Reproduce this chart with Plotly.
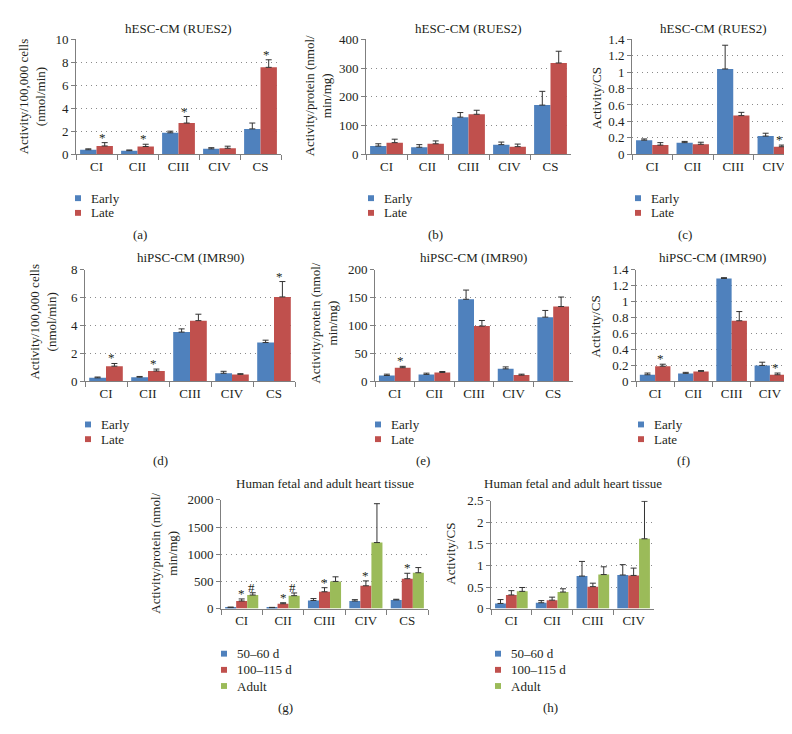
import plotly.graph_objects as go

W, H = 792, 734
FONT = "Liberation Serif"
TXT = "#231f20"
AXC = "#7f7f7f"
BLUE, RED, GREEN = "#4F81BD", "#C0504D", "#9BBB59"

CATS5 = ["CI", "CII", "CIII", "CIV", "CS"]
CATS4 = ["CI", "CII", "CIII", "CIV"]

# (a) hESC-CM (RUES2), activity / 100,000 cells
a_early = [0.38, 0.30, 1.86, 0.46, 2.20]
a_early_err = [0.08, 0.06, 0.14, 0.10, 0.51]
a_late = [0.71, 0.66, 2.71, 0.51, 7.57]
a_late_err = [0.29, 0.20, 0.57, 0.18, 0.66]
a_late_sig = ["*", "*", "*", "", "*"]

# (b) hESC-CM (RUES2), activity / protein
b_early = [28, 24, 129, 33, 171]
b_early_err = [8, 9, 16, 9, 48]
b_late = [40, 36, 139, 26, 318]
b_late_err = [12, 10, 14, 9, 41]

# (c) hESC-CM (RUES2), activity / CS
c_early = [0.17, 0.14, 1.04, 0.22]
c_early_err = [0.015, 0.015, 0.29, 0.035]
c_late = [0.11, 0.12, 0.47, 0.09]
c_late_err = [0.03, 0.025, 0.04, 0.02]
c_late_sig = ["", "", "", "*"]

# (d) hiPSC-CM (IMR90), activity / 100,000 cells
d_early = [0.25, 0.30, 3.53, 0.58, 2.78]
d_early_err = [0.06, 0.05, 0.23, 0.14, 0.17]
d_late = [1.09, 0.74, 4.35, 0.50, 6.05]
d_late_err = [0.19, 0.14, 0.46, 0.05, 1.10]
d_late_sig = ["*", "*", "", "", "*"]

# (e) hiPSC-CM (IMR90), activity / protein
e_early = [10.5, 12.4, 147, 22.4, 115]
e_early_err = [2.4, 2.3, 16.5, 3.5, 12]
e_late = [24.5, 15.9, 99, 11.2, 134]
e_late_err = [2.4, 1.7, 10, 1.7, 17]
e_late_sig = ["*", "", "", "", ""]

# (f) hiPSC-CM (IMR90), activity / CS
f_early = [0.083, 0.10, 1.29, 0.20]
f_early_err = [0.021, 0.013, 0.01, 0.04]
f_late = [0.19, 0.125, 0.76, 0.083]
f_late_err = [0.025, 0.01, 0.115, 0.021]
f_late_sig = ["*", "", "", "*"]

# (g) Human fetal and adult heart tissue, activity / protein
g_d50 = [22, 18, 150, 140, 160]
g_d50_err = [6, 5, 35, 25, 12]
g_d100 = [140, 90, 310, 420, 550]
g_d100_err = [38, 18, 75, 90, 100]
g_d100_sig = ["*", "*", "*", "*", "*"]
g_adult = [250, 238, 500, 1215, 660]
g_adult_err = [42, 50, 85, 715, 95]
g_adult_sig = ["#", "#", "", "", ""]

# (h) Human fetal and adult heart tissue, activity / CS
h_d50 = [0.12, 0.136, 0.755, 0.78]
h_d50_err = [0.09, 0.05, 0.34, 0.24]
h_d100 = [0.317, 0.196, 0.51, 0.77]
h_d100_err = [0.10, 0.07, 0.08, 0.17]
h_adult = [0.40, 0.385, 0.79, 1.62]
h_adult_err = [0.09, 0.075, 0.18, 0.87]

TITLE_ESC = "hESC-CM (RUES2)"
TITLE_IPS = "hiPSC-CM (IMR90)"
TITLE_TIS = "Human fetal and adult heart tissue"
YT_CELLS = "Activity/100,000 cells<br>(nmol/min)"
YT_PROT = "Activity/protein (nmol/<br>min/mg)"
YT_CS = "Activity/CS"
N_EARLY, N_LATE = "Early", "Late"
N_D50, N_D100, N_ADULT = "50–60 d", "100–115 d", "Adult"

fig = go.Figure()
annotations = []
shapes = []


def px(p):
    return p / W


def py(p):
    return 1 - p / H


def text(x, y, s, size=13, xanchor="center", yanchor="middle", **kw):
    annotations.append(dict(x=px(x), y=py(y), xref="paper", yref="paper", text=s,
                            showarrow=False, xanchor=xanchor, yanchor=yanchor,
                            font=dict(family=FONT, size=size, color=TXT), **kw))


def add_panel(i, box, cats, series, yrange, dtick, ytitle, ytitle_xy, title, title_y,
              legend_xy, legend_dy, label, label_xy, bargap):
    xa = "x" if i == 1 else f"x{i}"
    ya = "y" if i == 1 else f"y{i}"
    n = len(series)
    w = (1 - bargap) / n
    for k, (name, vals, errs, color, sig) in enumerate(series):
        fig.add_trace(go.Bar(
            x=cats, y=vals, name=name, xaxis=xa, yaxis=ya, showlegend=False,
            marker=dict(color=color, line=dict(width=0)),
            error_y=dict(type="data", array=errs, arrayminus=[0] * len(errs), symmetric=False,
                         color="#333333", thickness=1, width=3)))
        if sig:
            off = -0.5 * (1 - bargap) + w * (k + 0.5)
            for j, s in enumerate(sig):
                if s:
                    annotations.append(dict(
                        x=j + off, y=vals[j] + errs[j], xref=xa, yref=ya, text=s,
                        showarrow=False, xanchor="center", yanchor="bottom", yshift=-4,
                        font=dict(family=FONT, size=13, color=TXT)))
        # legend entry
        lx, ly = legend_xy
        yy = ly + k * legend_dy
        shapes.append(dict(type="rect", xref="paper", yref="paper",
                           x0=px(lx - 3), x1=px(lx + 3), y0=py(yy - 3), y1=py(yy + 3),
                           fillcolor=color, line=dict(width=0)))
        text(lx + 11, yy, name, xanchor="left")
    x0, x1, y0, y1 = box
    axis_common = dict(showline=True, linecolor=AXC, linewidth=1, ticks="outside",
                       tickcolor=AXC, tickfont=dict(family=FONT, size=13, color=TXT))
    fig.update_layout(**{
        ("xaxis" if i == 1 else f"xaxis{i}"): dict(
            domain=[px(x0), px(x1)], anchor=ya, type="category", categoryorder="array",
            categoryarray=cats, tickson="boundaries", ticklen=5, showgrid=False,
            range=[-0.5, len(cats) - 0.5], **axis_common),
        ("yaxis" if i == 1 else f"yaxis{i}"): dict(
            domain=[py(y1), py(y0)], anchor=xa, range=yrange, dtick=dtick, ticklen=4,
            showgrid=True, gridcolor="#8a8a8a", griddash="1px,4px", gridwidth=1,
            zeroline=False, **axis_common),
    })
    text((x0 + x1) / 2, title_y, title)
    text(ytitle_xy[0], ytitle_xy[1], ytitle, textangle=-90)
    text(label_xy[0], label_xy[1], label)


def two(e, ee, l, le, sig=None):
    return [(N_EARLY, e, ee, BLUE, None), (N_LATE, l, le, RED, sig)]


add_panel(1, (68, 273, 25, 142), CATS5, two(a_early, a_early_err, a_late, a_late_err, a_late_sig),
          [0, 10], 2, YT_CELLS, (24, 83), TITLE_ESC, 14, (70, 187), 15, "(a)", (132, 224), 0.44)
add_panel(2, (358, 563, 25, 142), CATS5, two(b_early, b_early_err, b_late, b_late_err),
          [0, 400], 100, YT_PROT, (310, 83), TITLE_ESC, 14, (363, 187), 15, "(b)", (427, 224), 0.44)
add_panel(3, (624, 786, 25, 142), CATS4, two(c_early, c_early_err, c_late, c_late_err, c_late_sig),
          [0, 1.4], 0.2, YT_CS, (588, 85), TITLE_ESC, 14, (630, 187), 15, "(c)", (677, 224), 0.44)
add_panel(4, (77, 287, 260, 374), CATS5, two(d_early, d_early_err, d_late, d_late_err, d_late_sig),
          [0, 8], 2, YT_CELLS, (35, 313), TITLE_IPS, 248, (80, 418), 15, "(d)", (152, 455), 0.44)
add_panel(5, (367, 565, 260, 374), CATS5, two(e_early, e_early_err, e_late, e_late_err, e_late_sig),
          [0, 200], 50, YT_PROT, (316, 315), TITLE_IPS, 248, (370, 418), 15, "(e)", (415, 455), 0.44)
add_panel(6, (628, 781, 260, 374), CATS4, two(f_early, f_early_err, f_late, f_late_err, f_late_sig),
          [0, 1.4], 0.2, YT_CS, (588, 318), TITLE_IPS, 248, (633, 418), 15, "(f)", (675, 455), 0.44)
add_panel(7, (213, 420, 495, 606), CATS5,
          [(N_D50, g_d50, g_d50_err, BLUE, None), (N_D100, g_d100, g_d100_err, RED, g_d100_sig),
           (N_ADULT, g_adult, g_adult_err, GREEN, g_adult_sig)],
          [0, 2000], 500, YT_PROT, (156, 550), TITLE_TIS, 478, (216, 652), 16.5, "(g)", (277, 707), 0.31)
add_panel(8, (483, 646, 496, 606), CATS4,
          [(N_D50, h_d50, h_d50_err, BLUE, None), (N_D100, h_d100, h_d100_err, RED, None),
           (N_ADULT, h_adult, h_adult_err, GREEN, None)],
          [0, 2.5], 0.5, YT_CS, (443, 550), TITLE_TIS, 478, (490, 652), 16.5, "(h)", (542, 707), 0.31)

fig.update_layout(width=W, height=H, margin=dict(l=0, r=0, t=0, b=0),
                  paper_bgcolor="white", plot_bgcolor="white", barmode="group",
                  bargroupgap=0, showlegend=False,
                  annotations=annotations, shapes=shapes,
                  font=dict(family=FONT, size=13, color=TXT))
fig.write_html("out.html")
